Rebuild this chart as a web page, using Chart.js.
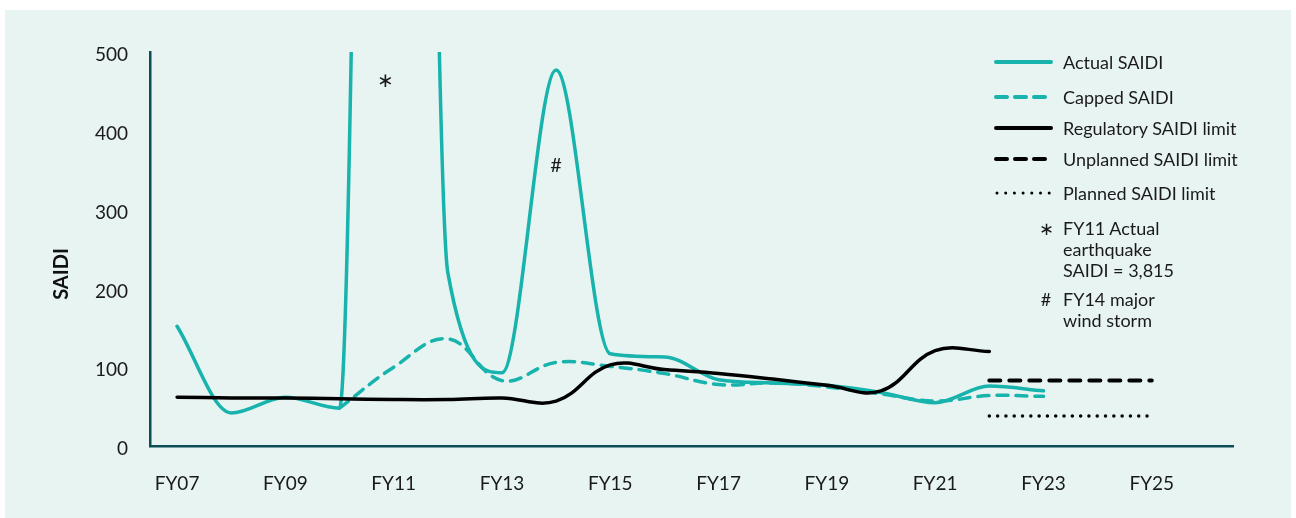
<!DOCTYPE html>
<html>
<head>
<meta charset="utf-8">
<script src="https://cdn.jsdelivr.net/npm/chart.js@4.4.1/dist/chart.umd.min.js"></script>
<style>
  html, body { margin: 0; padding: 0; background: #ffffff; }
  body { width: 1296px; height: 518px; position: relative; overflow: hidden; font-family: "Lato", "Open Sans", sans-serif; color: #1a1a1a; }
  #panel { position: absolute; left: 5px; top: 10px; width: 1286px; height: 508px; background: #e8f4f2; }
  #wrap { position: absolute; left: 0; top: 0; width: 1296px; height: 518px; }
  #legend { position: absolute; left: 0; top: 0; width: 1296px; height: 518px; pointer-events: none; }
  .row { position: absolute; left: 994px; height: 22px; display: flex; align-items: center; }
  .row svg { width: 60px; height: 10px; margin-right: 9px; }
  .row span { font-size: 18px; line-height: 22px; white-space: nowrap; }
  .note { position: absolute; left: 1034px; font-size: 18px; line-height: 21px; display: flex; }
  .note .sym { width: 24px; text-align: center; margin-right: 5px; }
</style>
</head>
<body>
<div id="panel"></div>
<div id="wrap"><canvas id="chart" width="1296" height="518"></canvas></div>
<div id="legend">
  <div class="row" style="top:51px"><svg viewBox="0 0 60 10"><line x1="2" y1="5" x2="57" y2="5" stroke="#17b3ac" stroke-width="4" stroke-linecap="round"/></svg><span>Actual SAIDI</span></div>
  <div class="row" style="top:86px"><svg viewBox="0 0 60 10"><line x1="2" y1="5" x2="57" y2="5" stroke="#17b3ac" stroke-width="4" stroke-linecap="round" stroke-dasharray="11 8"/></svg><span>Capped SAIDI</span></div>
  <div class="row" style="top:117px"><svg viewBox="0 0 60 10"><line x1="2" y1="5" x2="57" y2="5" stroke="#000" stroke-width="4" stroke-linecap="round"/></svg><span>Regulatory SAIDI limit</span></div>
  <div class="row" style="top:148px"><svg viewBox="0 0 60 10"><line x1="2" y1="5" x2="57" y2="5" stroke="#000" stroke-width="4" stroke-linecap="round" stroke-dasharray="11 8"/></svg><span>Unplanned SAIDI limit</span></div>
  <div class="row" style="top:182px"><svg viewBox="0 0 60 10"><line x1="3" y1="5" x2="57" y2="5" stroke="#000" stroke-width="3" stroke-linecap="round" stroke-dasharray="0 8.7"/></svg><span>Planned SAIDI limit</span></div>
  <div class="note" style="top:218px"><div class="sym">&#x2217;</div><div>FY11 Actual<br>earthquake<br>SAIDI = 3,815</div></div>
  <div class="note" style="top:289px"><div class="sym">#</div><div>FY14 major<br>wind storm</div></div>
</div>
<script>
// ---- data ----
const fiscalYears = [7, 8, 9, 10, 11, 12, 13, 14, 15, 16, 17, 18, 19, 20, 21, 22, 23];
const actualSAIDI = [152, 42, 62, 48, 3815, 220, 93, 477, 117, 113, 84, 80, 77, 68, 55, 76, 70];

const cappedYears = [10, 11, 12, 13, 14, 15, 16, 17, 18, 19, 20, 21, 22, 23];
const cappedSAIDI = [48, 100, 136, 83, 106, 101, 92, 78, 80, 75, 66, 57, 64, 63];

const regulatoryYears = [7, 8, 9, 10, 11, 12, 13, 14, 15, 16, 17, 18, 19, 20, 21, 22];
const regulatoryLimit = [62, 61, 61, 60, 59, 59, 61, 57, 103, 97, 92, 85, 77, 70, 121, 120];

const limitYears = [22, 23, 24, 25];
const unplannedLimit = [83, 83, 83, 83];
const plannedLimit = [38, 38, 38, 38];

const tickYears = [7, 9, 11, 13, 15, 17, 19, 21, 23, 25];
const tickLabels = ['FY07', 'FY09', 'FY11', 'FY13', 'FY15', 'FY17', 'FY19', 'FY21', 'FY23', 'FY25'];
const yTicks = [0, 100, 200, 300, 400, 500];

const notes = [
  { text: '\u2217', x: 10.85, y: 464 },
  { text: '#', x: 14.0, y: 356 }
];

const pts = (xs, ys) => xs.map((x, i) => ({ x: x, y: ys[i] }));
const TEAL = '#17b3ac';
const FONT = '"Lato", "Open Sans", sans-serif';

const notesPlugin = {
  id: 'notes',
  afterDatasetsDraw(chart) {
    const { ctx, scales } = chart;
    ctx.save();
    ctx.fillStyle = '#1a1a1a';
    ctx.font = '20px ' + FONT;
    ctx.textAlign = 'center';
    ctx.textBaseline = 'middle';
    notes.forEach(n => {
      ctx.fillText(n.text, scales.x.getPixelForValue(n.x), scales.y.getPixelForValue(n.y));
    });
    // y axis title
    ctx.fillStyle = '#111';
    ctx.font = 'bold 20px ' + FONT;
    ctx.translate(62, 274);
    ctx.rotate(-Math.PI / 2);
    ctx.fillText('SAIDI', 0, 0);
    ctx.restore();
  }
};

new Chart(document.getElementById('chart'), {
  type: 'line',
  data: {
    datasets: [
      { label: 'Regulatory SAIDI limit', data: pts(regulatoryYears, regulatoryLimit), borderColor: '#000', borderWidth: 3.5, tension: 0.4, pointRadius: 0, order: 0, borderCapStyle: 'round' },
      { label: 'Actual SAIDI', data: pts(fiscalYears, actualSAIDI), borderColor: TEAL, borderWidth: 3.5, cubicInterpolationMode: 'monotone', pointRadius: 0, order: 1, borderCapStyle: 'round' },
      { label: 'Capped SAIDI', data: pts(cappedYears, cappedSAIDI), borderColor: TEAL, borderWidth: 3.5, borderDash: [11, 8], tension: 0.4, pointRadius: 0, order: 2, borderCapStyle: 'round' },
      { label: 'Unplanned SAIDI limit', data: pts(limitYears, unplannedLimit), borderColor: '#000', borderWidth: 4, borderDash: [11, 9], pointRadius: 0, order: 3, borderCapStyle: 'round' },
      { label: 'Planned SAIDI limit', data: pts(limitYears, plannedLimit), borderColor: '#000', borderWidth: 3.5, borderDash: [0, 8.3], pointRadius: 0, order: 4, borderCapStyle: 'round' }
    ]
  },
  options: {
    responsive: false,
    animation: false,
    events: [],
    layout: { padding: { top: 52, right: 63, left: 0, bottom: 0 } },
    plugins: { legend: { display: false }, tooltip: { enabled: false } },
    scales: {
      x: {
        type: 'linear',
        min: 6.5,
        max: 26.5,
        grid: { display: false, drawTicks: false },
        border: { display: true, color: '#0d4d55', width: 2.5 },
        afterBuildTicks: (scale) => { scale.ticks = tickYears.map(v => ({ value: v })); },
        afterFit: (scale) => { scale.height = 72; },
        ticks: {
          padding: 26,
          color: '#1a1a1a',
          font: { family: FONT, size: 19 },
          autoSkip: false,
          maxRotation: 0,
          callback: (v) => tickLabels[tickYears.indexOf(v)]
        }
      },
      y: {
        min: 0,
        max: 500,
        grid: { display: false, drawTicks: false },
        border: { display: true, color: '#0d4d55', width: 2.5 },
        afterBuildTicks: (scale) => { scale.ticks = yTicks.map(v => ({ value: v })); },
        afterFit: (scale) => { scale.width = 150; },
        ticks: {
          padding: 22,
          labelOffset: 3,
          color: '#1a1a1a',
          font: { family: FONT, size: 19 },
          callback: (v) => String(v)
        }
      }
    }
  },
  plugins: [notesPlugin]
});
</script>
</body>
</html>
